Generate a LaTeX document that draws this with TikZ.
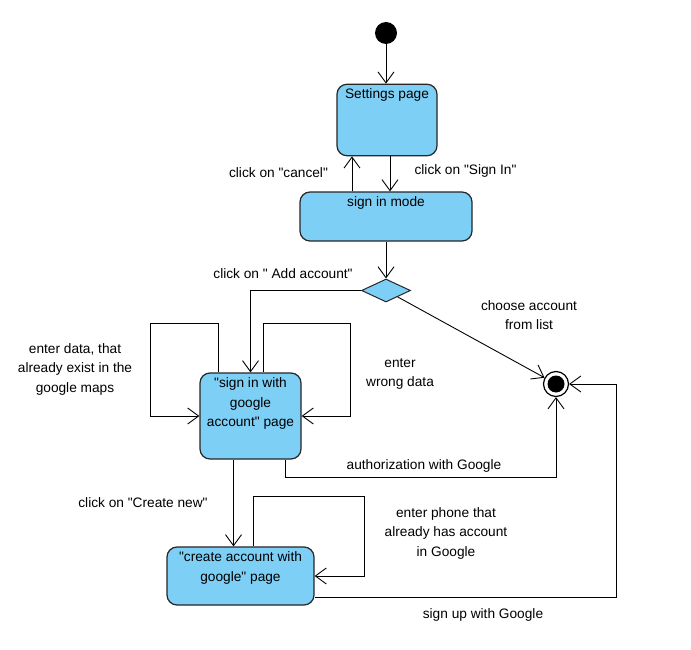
\documentclass[tikz,border=0pt]{standalone}
\usepackage{fontspec}
\setmainfont{Liberation Sans}[Ligatures=TeXOff]
\usepackage{xcolor}
\usetikzlibrary{shapes.geometric}
\usetikzlibrary{arrows.meta}
\definecolor{stateblue}{RGB}{125,207,245}
\tikzset{
	state/.style={
		rectangle,
		draw=black!85,
		line width=1.2pt,
		fill=stateblue,
		align=center,
		inner sep=4pt,
		text height=10.5pt,
		rounded corners=10pt
	},
	choice/.style={
		diamond,
		draw=black!85,
		line width=1pt,
		fill=stateblue,
		minimum width=49pt,
		minimum height=23pt,
		inner sep=0pt
	},
	startstate/.style={
		circle,
		fill=black,
		minimum size=22pt,
		inner sep=0pt
	},
	finalstate/.style={
		circle,
		draw=black,
		line width=1.2pt,
		fill=white,
		minimum size=25pt,
		inner sep=0pt,
		path picture={\fill[black] (path picture bounding box.center) circle (8.5pt);}
	},
	note/.style={
		align=center,
		inner sep=1pt
	},
	flow/.style={
		-{Straight Barb[length=11pt,width=16pt]},
		line width=0.9pt
	}
}

\begin{document}
\begin{tikzpicture}[x=1pt,y=-1pt,font=\fontsize{13.7pt}{19.5pt}\selectfont]
		\path[use as bounding box, fill=white] (0,0) rectangle (691,650);
		\draw node[startstate] (Start) at (386,33) {};
		\draw node[state, minimum width=100pt, text depth=53pt] (Settings) at (387,120) {Settings page};
		\draw node[state, minimum width=172pt, text depth=30.5pt] (SignInMode) at (386,216.5) {sign in mode};
		\draw node[choice] (Choice) at (386,290.5) {};
		\draw node[state, minimum width=101pt, text height=49.5pt, text depth=28.5pt] (SignInGoogle) at (250.5,416) {"sign in with\\ google\\ account" page};
		\draw node[state, minimum width=147pt, text height=30pt, text depth=20pt] (CreateAccount) at (240.5,576) {"create account with\\ google" page};
		\draw node[finalstate] (Final) at (556,384) {};
		
		\draw node[note] (LblSignIn) at (465.5,171) {click on "Sign In"};
		\draw node[note] (LblCancel) at (278.5,173) {click on "cancel"};
		\draw node[note] (LblAdd) at (283,274) {click on " Add account"};
		\draw node[note] (LblChoose) at (529,315) {choose account\\ from list};
		\draw node[note] (LblKnown) at (75,369) {enter data, that\\ already exist in the\\ google maps};
		\draw node[note] (LblWrong) at (400,374) {enter\\ wrong data};
		\draw node[note] (LblAuth) at (424,466) {authorization with Google};
		\draw node[note] (LblCreate) at (143,503) {click on "Create new"};
		\draw node[note] (LblPhone) at (446,533) {enter phone that\\ already has account\\ in Google};
		\draw node[note] (LblSignUp) at (483,615) {sign up with Google};
		
		\draw [flow] (Start) -- (Start |- Settings.north);
		\draw [flow] ([xshift=3pt]Settings.south) -- ([xshift=3pt]Settings.south |- SignInMode.north);
		\draw [flow] ([xshift=-35pt]Settings.south |- SignInMode.north) -- ([xshift=-35pt]Settings.south);
		\draw [flow] (SignInMode.south) -- (Choice.north);
		\draw [flow] (Choice.west) -| (SignInGoogle.north);
		\draw [flow] (Choice) -- (Final);
		\draw [flow] ([xshift=-32pt]SignInGoogle.north) |- (150,323) |- (SignInGoogle.west);
		\draw [flow] ([xshift=13pt]SignInGoogle.north) |- (350,323) |- (SignInGoogle.east);
		\draw [flow] ([xshift=35pt]SignInGoogle.south) -- ++(0,18) -| (Final.south);
		\draw [flow] ([xshift=-17pt]SignInGoogle.south) -- ([xshift=-17pt]SignInGoogle.south |- CreateAccount.north);
		\draw [flow] ([xshift=12.5pt]CreateAccount.north) |- (364,496) |- (CreateAccount.east);
		\draw [flow] ([yshift=-21pt]CreateAccount.east) -| (616,384) -- (Final.east);
	\end{tikzpicture}
\end{document}
